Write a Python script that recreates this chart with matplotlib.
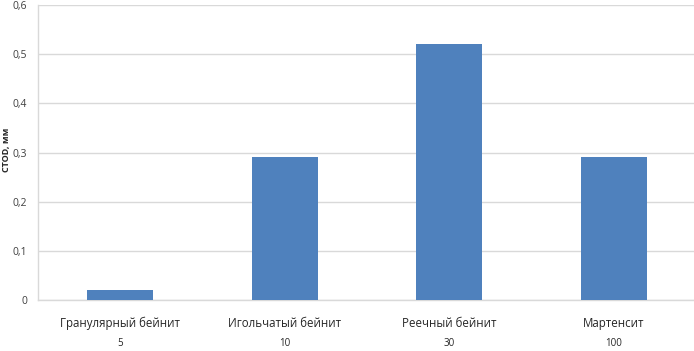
import matplotlib
matplotlib.use("Agg")
import matplotlib.pyplot as plt

categories = ["Гранулярный бейнит", "Игольчатый бейнит", "Реечный бейнит", "Мартенсит"]
sub_labels = ["5", "10", "30", "100"]
values = [0.02, 0.29, 0.52, 0.29]
yticks = [0, 0.1, 0.2, 0.3, 0.4, 0.5, 0.6]
ytick_labels = ["0", "0,1", "0,2", "0,3", "0,4", "0,5", "0,6"]

plt.rcParams['font.family'] = ['Open Sans', 'DejaVu Sans']

fig = plt.figure(figsize=(6.94, 3.51), dpi=100)
ax = fig.add_axes([38/694, (351-300)/351, (696-38)/694, 295/351])

x = list(range(len(categories)))
ax.bar(x, values, width=0.4, color="#4F81BD", zorder=3)
ax.set_xlim(-0.5, len(categories) - 0.5)
ax.set_ylim(0, 0.6)
ax.set_yticks(yticks)
ax.set_yticklabels(ytick_labels, fontsize=7.5, color="#404040")
ax.yaxis.grid(True, color="#D9D9D9", linewidth=1, zorder=0)
ax.tick_params(axis='y', length=0, pad=8)
ax.tick_params(axis='x', length=0)
ax.set_xticks(x)
ax.set_xticklabels([])
for i, (c, s) in enumerate(zip(categories, sub_labels)):
    ax.text(i, -0.047, c, ha='center', va='center', fontsize=8.3, color="#262626",
            transform=ax.transData, clip_on=False)
    ax.text(i, -0.089, s, ha='center', va='center', fontsize=7, color="#262626",
            transform=ax.transData, clip_on=False)

for side in ['top', 'right']:
    ax.spines[side].set_visible(False)
for side in ['left', 'bottom']:
    ax.spines[side].set_color("#D9D9D9")
    ax.spines[side].set_linewidth(1)

fig.text(7/694, 1 - 150/351, "CTOD, мм", rotation=90, ha='center', va='center',
         fontsize=6.5, fontweight='bold', color="#262626")

fig.savefig("out.png", dpi=100)
